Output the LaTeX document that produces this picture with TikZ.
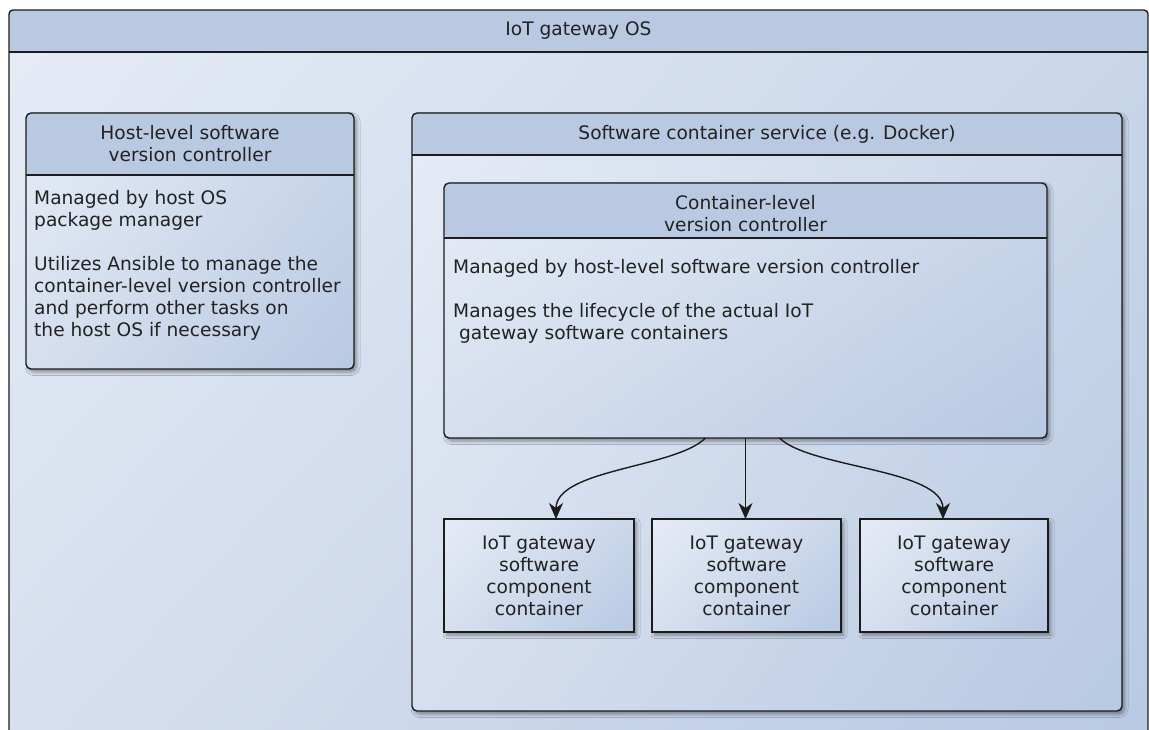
\documentclass[tikz,border=0pt]{standalone}
\usepackage{fontspec}
\setmainfont{DejaVu Sans}
\usetikzlibrary{arrows.meta,shadows.blur,shadings}

\definecolor{edge}{HTML}{1C1C1C}
\definecolor{ink}{HTML}{222222}
\definecolor{hdrfill}{HTML}{B9C9E2}
\definecolor{bodyUL}{HTML}{E6ECF6}
\definecolor{bodyUR}{HTML}{CAD7EA}
\definecolor{bodyLL}{HTML}{D6DFEE}
\definecolor{bodyLR}{HTML}{B8C9E3}

\tikzset{
  boxbase/.style={draw=edge, line width=1.4pt, inner sep=0pt, outer sep=0pt,
    upper left=bodyUL, upper right=bodyUR, lower left=bodyLL, lower right=bodyLR},
  shadowed/.style={blur shadow={shadow xshift=2.5pt, shadow yshift=-3pt,
    shadow blur radius=3.5pt, shadow opacity=40}},
  panel/.style={boxbase, rounded corners=5pt, shadowed},
  header/.style={path picture={
    \fill[hdrfill] (path picture bounding box.north west) rectangle
      ([yshift=-#1]path picture bounding box.north east);
    \draw[edge, line width=1.4pt] ([yshift=-#1]path picture bounding box.north west) --
      ([yshift=-#1]path picture bounding box.north east);}},
  compbox/.style={boxbase, shadowed, align=center, text=ink},
  label/.style={text=ink, inner sep=0pt, align=center},
  bodytext/.style={text=ink, inner sep=0pt, align=left, anchor=north west},
  arr/.style={draw=edge, line width=1.4pt, -{Stealth[length=16pt,width=14pt,inset=5pt]}},
}

\begin{document}
\begin{tikzpicture}[x=1pt,y=-1pt,font=\fontsize{18.6}{22}\selectfont]
\useasboundingbox (0,0) rectangle (1149,729);
\fill[white] (0,0) rectangle (1149,729);
\clip (0,0) rectangle (1149,729);

% outer frame: the gateway operating system
\node[boxbase, rounded corners=4pt, header=42pt,
  minimum width=1139pt, minimum height=750pt] (os) at (578.5,385) {};
\node[label] (ostitle) at ([yshift=-21pt]os.north) {IoT gateway OS};

% host-level controller
\node[panel, header=62pt, minimum width=328pt, minimum height=256pt] (host) at (190,241) {};
\node[label] (hosttitle) at ([yshift=-31pt]host.north) {Host-level software\\version controller};
\node[bodytext] (hostbody) at ([xshift=8pt,yshift=-77pt]host.north west)
  {Managed by host OS\\package manager\\[22pt]Utilizes Ansible to manage the\\container-level version controller\\and perform other tasks on\\the host OS if necessary};

% container service
\node[panel, header=42pt, minimum width=710pt, minimum height=598pt] (docker) at (767,412) {};
\node[label] (dockertitle) at ([yshift=-21pt]docker.north) {Software container service (e.g. Docker)};

% container-level controller
\node[panel, header=55pt, minimum width=603pt, minimum height=255pt] (ctl) at (745.5,310.5) {};
\node[label] (ctltitle) at ([yshift=-31pt]ctl.north) {Container-level\\version controller};
\node[bodytext] (ctlbody) at ([xshift=9pt,yshift=-76pt]ctl.north west)
  {Managed by host-level software version controller\\[22pt]Manages the lifecycle of the actual IoT\\\ gateway software containers};

% component containers
\node[compbox, minimum width=190pt, minimum height=113pt] (c1) at (539,575.5)
  {IoT gateway\\software\\component\\container};
\node[compbox, minimum width=189pt, minimum height=113pt] (c2) at (746.5,575.5)
  {IoT gateway\\software\\component\\container};
\node[compbox, minimum width=188pt, minimum height=113pt] (c3) at (954,575.5)
  {IoT gateway\\software\\component\\container};

% controller manages each container
\draw[arr] ([xshift=-40pt]ctl.south) .. controls +(-30,30) and +(0,-50) .. ([xshift=17pt]c1.north);
\draw[arr] (ctl.south) -- (ctl.south |- c2.north);
\draw[arr] ([xshift=34pt]ctl.south) .. controls +(30,30) and +(0,-50) .. ([xshift=-11pt]c3.north);
\end{tikzpicture}
\end{document}
